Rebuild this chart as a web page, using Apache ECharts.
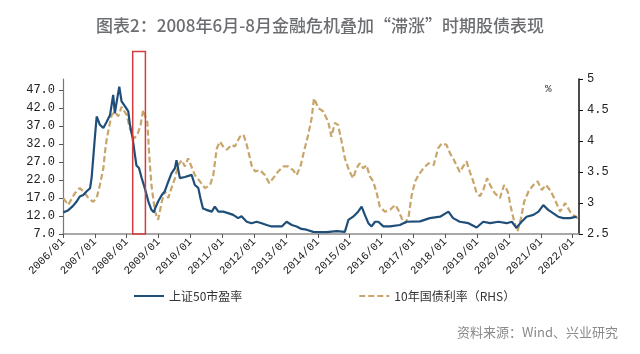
<!DOCTYPE html>
<html>
<head>
<meta charset="utf-8">
<script src="https://cdn.jsdelivr.net/npm/echarts@6/dist/echarts.min.js"></script>
<style>
  html, body { margin: 0; padding: 0; background: #fff; }
  #chart { width: 640px; height: 354px; }
</style>
</head>
<body>
<div id="chart"></div>
<script>
// 上证50市盈率 (左轴)
var peDates = ['2006-01-04','2006-02-25','2006-04-26','2006-06-06','2006-07-12','2006-08-21','2006-09-27','2006-11-07','2006-11-25','2006-12-13',
  '2007-01-01','2007-01-22','2007-02-28','2007-04-08','2007-05-14','2007-06-24','2007-07-30','2007-08-18','2007-09-09','2007-10-08','2007-11-03','2007-12-13',
  '2008-01-19','2008-02-07','2008-03-09','2008-04-04','2008-04-22','2008-05-21','2008-06-20','2008-07-26','2008-09-06','2008-10-11','2008-11-07','2008-11-21','2008-12-27',
  '2009-02-07','2009-03-13','2009-04-22','2009-05-29','2009-07-08','2009-07-26','2009-09-02','2009-10-30',
  '2010-01-15','2010-02-21','2010-04-01','2010-04-26','2010-05-25','2010-07-04','2010-09-02','2010-10-08','2010-11-18',
  '2011-01-12','2011-03-09','2011-05-07','2011-07-01','2011-08-10','2011-10-08','2011-12-02',
  '2012-01-30','2012-03-27','2012-05-25','2012-07-19','2012-09-16','2012-11-14',
  '2013-01-08','2013-03-09','2013-05-03','2013-06-27','2013-08-25','2013-11-10',
  '2014-04-11','2014-08-07','2014-11-07','2014-12-17',
  '2015-02-10','2015-04-08','2015-05-18','2015-06-24','2015-08-03','2015-09-09','2015-10-19','2015-11-25',
  '2016-01-22','2016-04-08','2016-07-30','2016-10-15',
  '2017-03-18','2017-07-08','2017-11-03',
  '2018-02-07','2018-04-01','2018-06-17','2018-09-24','2018-12-27',
  '2019-03-13','2019-05-30','2019-09-02','2019-12-06',
  '2020-02-03','2020-03-27','2020-05-25','2020-07-22','2020-10-08','2020-12-06',
  '2021-01-30','2021-03-27','2021-05-21','2021-07-19','2021-09-16','2021-12-02',
  '2022-02-17']
var peValues = [13.0,13.5,14.8,16.0,17.4,17.8,18.8,19.7,22.6,28.0,
  33.7,39.6,37.3,36.4,38.0,40.0,45.6,40.5,43.8,47.9,43.8,42.4,
  41.0,37.3,33.6,29.0,26.0,25.3,22.6,19.8,16.0,13.7,13.0,14.0,16.0,
  17.8,18.8,21.5,23.8,25.3,27.5,22.5,22.8,
  23.4,20.6,19.8,16.9,14.1,13.7,13.2,14.6,13.2,
  13.2,12.8,12.3,11.4,11.9,10.4,10.0,
  10.4,10.0,9.5,9.1,9.1,9.1,
  10.4,9.5,9.1,8.4,8.2,7.6,
  7.5,7.8,7.6,10.9,
  11.8,13.2,14.6,12.3,10.0,9.1,10.4,10.4,
  9.1,9.1,9.5,10.4,
  10.5,11.4,11.8,
  13.2,11.4,10.4,10.0,8.8,
  10.4,10.0,10.4,10.0,
  10.4,8.7,10.4,11.8,12.3,13.2,
  15.0,13.7,12.8,11.8,11.4,11.4,
  11.8]

// 10年国债利率 (右轴, %)
var yieldDates = ['2006-01-04','2006-03-02','2006-05-18','2006-07-12','2006-08-21','2006-10-19','2006-12-13',
  '2007-01-22','2007-02-28','2007-04-08','2007-05-07','2007-06-02','2007-07-12','2007-08-18','2007-09-27','2007-11-03',
  '2008-01-01','2008-02-07','2008-03-24','2008-04-30','2008-06-09','2008-07-08','2008-07-26','2008-08-25','2008-09-16','2008-10-11','2008-11-21','2008-12-27',
  '2009-02-07','2009-03-13','2009-04-22','2009-05-29','2009-07-08','2009-08-14','2009-09-24','2009-10-30','2009-12-06',
  '2010-02-21','2010-04-19','2010-06-17','2010-08-14','2010-09-20','2010-10-30','2010-12-06',
  '2011-01-12','2011-02-21','2011-04-19','2011-05-25','2011-07-22','2011-09-02','2011-10-08','2011-11-07','2011-12-02',
  '2012-01-12','2012-03-09','2012-05-03','2012-06-24','2012-08-07','2012-10-04','2012-12-02',
  '2013-01-26','2013-03-24','2013-05-03','2013-06-20','2013-07-26','2013-09-13','2013-10-23','2013-11-18',
  '2014-01-08','2014-03-02','2014-04-30','2014-06-06','2014-07-15','2014-08-21','2014-10-01','2014-11-07',
  '2015-01-01','2015-02-10','2015-03-20','2015-04-26','2015-06-06','2015-07-12','2015-08-21','2015-09-27','2015-11-07','2015-12-13',
  '2016-02-10','2016-04-08','2016-06-06','2016-07-12','2016-08-21','2016-09-27','2016-11-07','2016-12-13',
  '2017-01-22','2017-02-28','2017-04-26','2017-06-24','2017-08-21','2017-10-11','2017-11-21',
  '2018-01-15','2018-02-25','2018-04-01','2018-05-10','2018-06-17','2018-07-26','2018-09-02','2018-10-11','2018-11-18','2018-12-27',
  '2019-02-03','2019-03-13','2019-04-26','2019-05-30','2019-07-22','2019-09-20','2019-11-07','2019-12-17',
  '2020-01-22','2020-03-02','2020-04-08','2020-05-18','2020-06-24','2020-08-14','2020-10-08','2020-11-25',
  '2021-01-12','2021-03-02','2021-04-26','2021-06-13','2021-08-10','2021-10-08','2021-12-02',
  '2022-01-30','2022-03-06']
var yieldValues = [3.08,2.97,3.16,3.24,3.19,3.08,3.02,
  3.08,3.29,3.56,3.94,4.15,4.42,4.47,4.40,4.55,
  4.42,4.20,4.04,4.09,4.26,4.50,4.53,4.30,3.77,3.29,2.86,2.73,
  3.02,3.19,3.08,3.24,3.40,3.61,3.69,3.59,3.72,
  3.45,3.35,3.24,3.29,3.45,3.88,3.99,
  3.91,3.86,3.94,3.91,4.07,4.10,3.94,3.77,3.61,
  3.51,3.53,3.45,3.32,3.40,3.51,3.59,
  3.59,3.53,3.45,3.61,3.83,4.10,4.37,4.69,
  4.53,4.48,4.31,4.07,4.29,4.26,3.99,3.72,
  3.50,3.40,3.56,3.64,3.56,3.61,3.43,3.35,3.16,2.94,
  2.86,2.89,2.97,2.89,2.75,2.67,2.78,3.13,
  3.35,3.45,3.56,3.64,3.61,3.88,3.96,
  3.94,3.80,3.72,3.61,3.50,3.59,3.67,3.50,3.35,3.16,
  3.11,3.21,3.40,3.29,3.16,3.08,3.29,3.19,
  2.94,2.70,2.54,2.75,3.02,3.19,3.29,3.35,
  3.21,3.29,3.19,3.05,2.86,3.00,2.86,
  2.78,2.75]

var yearTicks = [2006,2007,2008,2009,2010,2011,2012,2013,2014,2015,2016,2017,2018,2019,2020,2021,2022]
var peTicks = [7,12,17,22,27,32,37,42,47]

// 红框: 2008年危机时段
var boxFrom = '2008-03-10', boxTo = '2008-08-03'
var boxTopPE = 57.6

function toYear(s) {
  var p = s.split('-').map(Number)
  var t0 = Date.UTC(p[0], 0, 1), t1 = Date.UTC(p[0] + 1, 0, 1)
  return p[0] + (Date.UTC(p[0], p[1] - 1, p[2]) - t0) / (t1 - t0)
}

var peData = peDates.map(function (d, i) { return [toYear(d), peValues[i]] })
var yieldData = yieldDates.map(function (d, i) { return [toYear(d), yieldValues[i]] })

var monoFont = '"Liberation Mono", "DejaVu Sans Mono", monospace'
var cjkFont = '"Noto Sans CJK SC", "Noto Sans", sans-serif'

var chart = echarts.init(document.getElementById('chart'))
chart.setOption({
  animation: false,
  backgroundColor: '#fff',
  title: {
    text: '图表2：2008年6月-8月金融危机叠加“滞涨”时期股债表现',
    left: 'center', top: 12,
    textStyle: { fontFamily: cjkFont, fontSize: 17, fontWeight: 500, color: '#6b6d71' }
  },
  grid: { left: 63, right: 61, top: 79, bottom: 120 },
  legend: {
    left: 128, top: 285, itemWidth: 30, itemHeight: 10, itemGap: 116,
    itemStyle: { opacity: 0 },
    textStyle: { fontFamily: cjkFont, fontSize: 12, color: '#333' },
    data: ['上证50市盈率', '10年国债利率（RHS）']
  },
  xAxis: {
    type: 'value', min: 2006, max: 2022.2,
    splitLine: { show: false },
    axisLine: { lineStyle: { color: '#8c8c8c', width: 1.5 } },
    axisTick: { customValues: yearTicks, length: 4, lineStyle: { color: '#555' } },
    axisLabel: {
      customValues: yearTicks, rotate: 45, margin: 6,
      fontFamily: monoFont, fontSize: 11, color: '#222',
      formatter: function (v) { return v + '/01' }
    }
  },
  yAxis: [{
    type: 'value', min: 7, max: 50,
    splitLine: { show: false },
    axisLine: { show: true, lineStyle: { color: '#777', width: 1.2 } },
    axisTick: { show: true, customValues: peTicks, length: 4, lineStyle: { color: '#555' } },
    axisLabel: {
      customValues: peTicks, margin: 8,
      fontFamily: monoFont, fontSize: 12, color: '#222',
      formatter: function (v) { return v.toFixed(1) }
    }
  }, {
    type: 'value', min: 2.5, max: 5, interval: 0.5, position: 'right',
    splitLine: { show: false },
    axisLine: { show: true, lineStyle: { color: '#111', width: 1.5 } },
    axisTick: { show: true, length: 4, lineStyle: { color: '#111' } },
    axisLabel: { margin: 8, fontFamily: monoFont, fontSize: 12, color: '#222' }
  }],
  graphic: [{
    id: 'unit', type: 'text', left: 545, top: 84,
    style: { text: '%', fontFamily: monoFont, fontSize: 11, fill: '#333' }
  }, {
    id: 'source', type: 'text', right: 22, top: 326,
    style: { text: '资料来源：Wind、兴业研究', fontFamily: cjkFont, fontSize: 13, fill: '#8a8a8a' }
  }],
  series: [{
    name: '10年国债利率（RHS）', type: 'line', yAxisIndex: 1,
    data: yieldData, showSymbol: false, symbol: 'none',
    lineStyle: { color: '#c8a56b', width: 2.2, type: [6, 3] },
    itemStyle: { color: '#c8a56b' }
  }, {
    name: '上证50市盈率', type: 'line', yAxisIndex: 0,
    data: peData, showSymbol: false, symbol: 'none',
    lineStyle: { color: '#1f4e79', width: 2.2 },
    itemStyle: { color: '#1f4e79' }
  }]
})

// 红框用坐标轴换算位置
var x0 = chart.convertToPixel({ xAxisIndex: 0 }, toYear(boxFrom))
var x1 = chart.convertToPixel({ xAxisIndex: 0 }, toYear(boxTo))
var yTop = chart.convertToPixel({ yAxisIndex: 0 }, boxTopPE)
var yBot = chart.convertToPixel({ yAxisIndex: 0 }, 7)
chart.setOption({
  graphic: [{
    id: 'box', type: 'rect', z: 100,
    shape: { x: x0, y: yTop, width: x1 - x0, height: yBot - yTop },
    style: { fill: 'none', stroke: '#d23c3f', lineWidth: 1.5 }
  }]
})
</script>
</body>
</html>
